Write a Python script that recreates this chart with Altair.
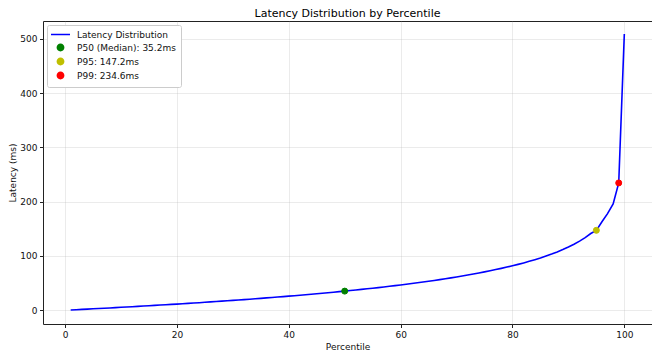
import altair as alt
import pandas as pd

percentiles = list(range(1, 101))
latency = [
    0.5, 1.0, 1.5, 2.1, 2.6, 3.1, 3.7, 4.2, 4.8, 5.4,
    5.9, 6.5, 7.1, 7.7, 8.3, 8.9, 9.5, 10.1, 10.7, 11.3,
    12.0, 12.6, 13.3, 13.9, 14.6, 15.3, 16.0, 16.7, 17.4, 18.1,
    18.8, 19.6, 20.3, 21.1, 21.9, 22.7, 23.5, 24.3, 25.1, 26.0,
    26.8, 27.7, 28.6, 29.5, 30.4, 31.3, 32.3, 33.2, 34.2, 35.2,
    36.2, 37.3, 38.4, 39.5, 40.6, 41.7, 42.9, 44.1, 45.3, 46.5,
    47.8, 49.2, 50.5, 51.9, 53.4, 54.9, 56.4, 58.0, 59.6, 61.3,
    63.0, 64.8, 66.7, 68.6, 70.6, 72.7, 74.9, 77.1, 79.5, 81.9,
    84.5, 87.2, 90.1, 93.1, 96.3, 99.8, 103.5, 107.5, 111.8, 116.5,
    121.6, 127.4, 133.9, 141.3, 147.2, 163.0, 178.0, 196.0, 234.6, 509.0,
]

marker_pct = [50, 95, 99]
marker_val = [35.2, 147.2, 234.6]
marker_labels = ["P50 (Median): 35.2ms", "P95: 147.2ms", "P99: 234.6ms"]

series_labels = ["Latency Distribution"] + marker_labels
series_colors = ["#0000ff", "#008000", "#bfbf00", "#ff0000"]
series_shapes = ["M-3,0H3", "circle", "circle", "circle"]

line_df = pd.DataFrame({"Percentile": percentiles, "Latency": latency,
                        "series": ["Latency Distribution"] * len(percentiles)})
mark_df = pd.DataFrame({"Percentile": marker_pct, "Latency": marker_val, "series": marker_labels})

font = "DejaVu Sans"
xscale = alt.Scale(domain=[-3.95, 104.95], nice=False, zero=False)
yscale = alt.Scale(domain=[-25.4, 533], nice=False, zero=False)
color_scale = alt.Scale(domain=series_labels, range=series_colors)
shape_scale = alt.Scale(domain=series_labels, range=series_shapes)

common_axis = dict(grid=True, gridColor="#b0b0b0", gridOpacity=0.25, domain=False,
                   tickColor="#222", tickSize=3.5, labelFontSize=9, labelColor="#111",
                   titleFontSize=9, titleFontWeight="normal", titleColor="#111",
                   labelFont=font, titleFont=font, labelPadding=2.5)
xaxis = alt.Axis(values=[0, 20, 40, 60, 80, 100], title="Percentile", titlePadding=3, **common_axis)
yaxis = alt.Axis(values=[0, 100, 200, 300, 400, 500], title="Latency (ms)", titlePadding=2.5,
                 **common_axis)

legend = alt.Legend(
    title=None, orient="top-left", offset=4, fillColor="white", strokeColor="#cccccc",
    padding=5, cornerRadius=2, labelFont=font, labelFontSize=9, labelColor="#111",
    symbolSize=40, rowPadding=1, symbolStrokeWidth=1.5, labelOffset=12, symbolOffset=4,
)

line = alt.Chart(line_df).mark_line(strokeWidth=1.6).encode(
    x=alt.X("Percentile:Q", scale=xscale, axis=xaxis),
    y=alt.Y("Latency:Q", scale=yscale, axis=yaxis),
    stroke=alt.Stroke("series:N", scale=color_scale, legend=legend),
)

points = alt.Chart(mark_df).mark_point(filled=False, opacity=1, size=36, strokeWidth=1).encode(
    x=alt.X("Percentile:Q", scale=xscale),
    y=alt.Y("Latency:Q", scale=yscale),
    stroke=alt.Stroke("series:N", scale=color_scale, legend=legend),
    fill=alt.Fill("series:N", scale=color_scale, legend=legend),
    shape=alt.Shape("series:N", scale=shape_scale, legend=legend),
)

chart = alt.layer(line, points).properties(
    width=609, height=303,
    title=alt.Title("Latency Distribution by Percentile", font=font, fontSize=11,
                    fontWeight="normal", color="#000", offset=2),
    autosize=alt.AutoSizeParams(type="none"),
    padding={"left": 35, "top": 13, "right": 0, "bottom": 27},
).configure_view(stroke="#222", strokeWidth=1)

chart.save("out.html", embed_options={"renderer": "svg", "actions": False})
